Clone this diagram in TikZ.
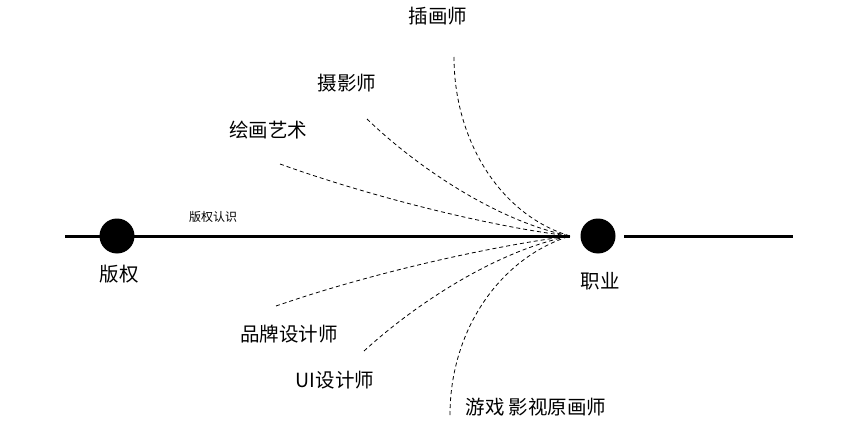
\documentclass[tikz,border=0pt]{standalone}
\usepackage{fontspec}
\newfontfamily\cjk{Noto Sans CJK SC}
\begin{document}
\begin{tikzpicture}[x=1pt,y=-1pt,
  lbl/.style={font=\cjk\fontsize{19.5}{22}\selectfont, inner sep=0pt},
  small/.style={font=\cjk\fontsize{12}{14}\selectfont, inner sep=0pt},
  dot/.style={circle, fill=black, minimum size=35pt, inner sep=0pt},
  mainline/.style={line width=3pt},
  dline/.style={line width=0.8pt, dash pattern=on 4pt off 3pt}]
\useasboundingbox (0,0) rectangle (860,444);
% main line
\coordinate (L) at (65,236);
\coordinate (c) at (570,236);
\coordinate (R1) at (624,236);
\coordinate (R2) at (793,236);
\draw[mainline] (L) -- (c);
\draw[mainline] (R1) -- (R2);
\node[dot] (d1) at (117,236) {};
\node[dot] (d2) at (598,236) {};
\node[lbl] (banquan) at (119,274) {版权};
\node[lbl] (zhiye) at (600,281) {职业};
\node[small] (bqrs) at (213,217) {版权认识};
% labels
\node[lbl] (l1) at (438,16) {插画师};
\node[lbl] (l2) at (347,83) {摄影师};
\node[lbl] (l3) at (268,130) {绘画艺术};
\node[lbl] (l4) at (289,334) {品牌设计师};
\node[lbl] (l5) at (335,380) {UI设计师};
\node[lbl] (l6) at (536,407) {游戏 影视原画师};
% curve starts
\coordinate (s1) at (454,57);
\coordinate (s2) at (367,119);
\coordinate (s3) at (280,164);
\coordinate (s4) at (276,306);
\coordinate (s5) at (364,351);
\coordinate (s6) at (450,415);
\draw[dline] (s1) .. controls (454,140) and (500,215) .. (c);
\draw[dline] (s2) .. controls (420,170) and (500,222) .. (c);
\draw[dline] (s3) .. controls (380,200) and (500,228) .. (c);
\draw[dline] (s4) .. controls (380,270) and (500,245) .. (c);
\draw[dline] (s5) .. controls (420,300) and (500,250) .. (c);
\draw[dline] (s6) .. controls (450,330) and (500,258) .. (c);
\end{tikzpicture}
\end{document}
